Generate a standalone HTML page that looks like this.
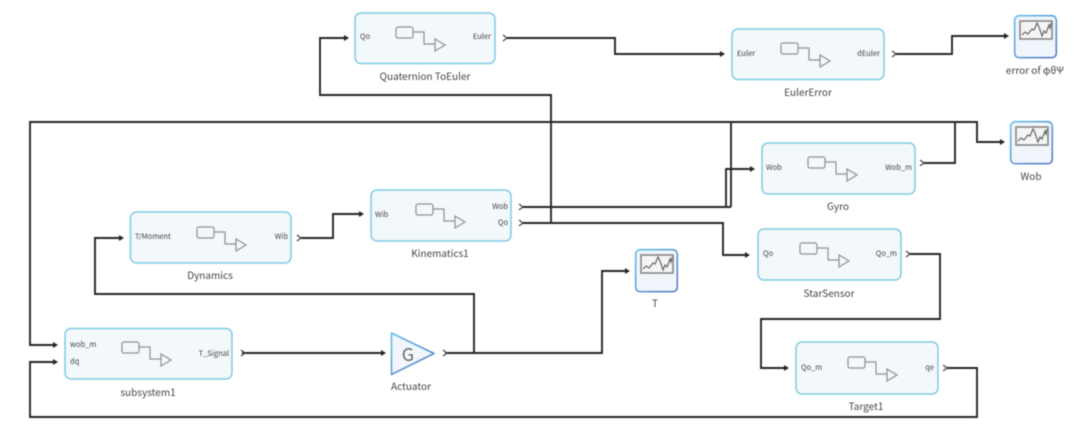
<!DOCTYPE html>
<html><head><meta charset="utf-8">
<style>
html,body{margin:0;padding:0;background:#fff;width:1080px;height:439px;overflow:hidden}
svg{display:block;filter:blur(0.5px)}
text{font-family:"Liberation Sans","Noto Sans CJK SC",sans-serif;fill:#555}
.t{font-family:"Noto Sans CJK SC","Liberation Sans",sans-serif;font-size:10px;text-anchor:middle;fill:#444}
.p{font-family:"Noto Sans CJK SC","Liberation Sans",sans-serif;font-size:7.5px;fill:#444}
.e{text-anchor:end}
.b{fill:#f3f8fb;stroke:#80cbe4;stroke-width:1.5}
.w{fill:none;stroke:#262626;stroke-width:1.9}
.a{fill:#262626}
.o{fill:none;stroke:#444;stroke-width:1.2}
</style></head><body>
<svg width="1080" height="439" viewBox="0 0 1080 439" xmlns="http://www.w3.org/2000/svg">
<defs>
<g id="ic" fill="none" stroke="#909090" stroke-width="1.2">
<rect x="0" y="0" width="17" height="11" rx="2"/>
<path d="M17 5H28V17H39"/>
<path d="M39 12L49 18L39 24Z" fill="#f3f8fb"/>
</g>
<linearGradient id="sg" x1="0" y1="0" x2="1" y2="1"><stop offset="0" stop-color="#66c0ea"/><stop offset="1" stop-color="#5b79c4"/></linearGradient>
<g id="sc">
<rect x="0.7" y="0.7" width="41.6" height="42" rx="4.5" fill="#f0f5fb" stroke="url(#sg)" stroke-width="1.6"/>
<rect x="6" y="6" width="32" height="18" fill="#f5f5f5" stroke="#808080" stroke-width="1.5"/>
<path d="M8 20L11 17L14 19L18 14L20 15L23 8L25 12L28 21L30 16L32 18L35 10L36 13L37 8" fill="none" stroke="#666" stroke-width="1.2"/>
</g>
</defs>

<!-- wires -->
<path class="w" d="M551 223V95H320V38H345"/>
<path class="w" d="M507 38H615V54H721"/>
<path class="w" d="M896 54H952V36H1005"/>
<path class="w" d="M731 207V122"/>
<path class="w" d="M54 345H30V122H977V142H1001"/>
<path class="w" d="M522 207H731"/>
<path class="w" d="M726 207V169H751"/>
<path class="w" d="M923 163H955V122"/>
<path class="w" d="M522 223H723V255H746"/>
<path class="w" d="M909 254H940V319H761V368H785"/>
<path class="w" d="M946 368H977V417H30V362H54"/>
<path class="w" d="M242 353H382"/>
<path class="w" d="M445 353H602V271H626"/>
<path class="w" d="M474 353V294H95V238H120"/>
<path class="w" d="M301 238H333V214H360"/>

<!-- arrowheads -->
<path class="a" d="M344 35L349 38L344 41Z"/>
<path class="a" d="M720 51L725 54L720 57Z"/>
<path class="a" d="M1004 33L1009 36L1004 39Z"/>
<path class="a" d="M1000 139L1005 142L1000 145Z"/>
<path class="a" d="M750 166L755 169L750 172Z"/>
<path class="a" d="M745 252L750 255L745 258Z"/>
<path class="a" d="M784 365L789 368L784 371Z"/>
<path class="a" d="M53 342L58 345L53 348Z"/>
<path class="a" d="M53 359L58 362L53 365Z"/>
<path class="a" d="M381 350L386 353L381 356Z"/>
<path class="a" d="M625 268L630 271L625 274Z"/>
<path class="a" d="M119 235L124 238L119 241Z"/>
<path class="a" d="M359 211L364 214L359 217Z"/>

<!-- output ticks -->
<path class="o" d="M503 35L507 38L503 41"/>
<path class="o" d="M892 51L896 54L892 57"/>
<path class="o" d="M519 204L523 207L519 210"/>
<path class="o" d="M519 220L523 223L519 226"/>
<path class="o" d="M920 160L924 163L920 166"/>
<path class="o" d="M906 251L910 254L906 257"/>
<path class="o" d="M943 365L947 368L943 371"/>
<path class="o" d="M241 350L245 353L241 356"/>
<path class="o" d="M297 235L301 238L297 241"/>
<path class="o" d="M443 350L447 353L443 356"/>

<!-- blocks -->
<rect class="b" x="355" y="13" width="140" height="50.5" rx="6"/>
<rect class="b" x="732" y="29" width="152" height="50.5" rx="6"/>
<rect class="b" x="762" y="143" width="153" height="51" rx="6"/>
<rect class="b" x="758" y="229" width="143" height="51" rx="6"/>
<rect class="b" x="796" y="342" width="142" height="52" rx="6"/>
<rect class="b" x="371" y="190" width="140" height="51" rx="6"/>
<rect class="b" x="130.500" y="212" width="160.500" height="51" rx="6"/>
<rect class="b" x="65" y="328.500" width="167" height="50.500" rx="6"/>

<use href="#ic" x="396" y="27"/>
<use href="#ic" x="781" y="43"/>
<use href="#ic" x="808" y="157"/>
<use href="#ic" x="800" y="243"/>
<use href="#ic" x="848" y="357"/>
<use href="#ic" x="416" y="204"/>
<use href="#ic" x="197" y="227"/>
<use href="#ic" x="122" y="342"/>

<!-- gain -->
<path d="M391.500 333L434 353.500L391.500 374.500Z" fill="#f0f6fb" stroke="url(#sg)" stroke-width="1.6" stroke-linejoin="round"/>
<text x="408" y="361" style="font-family:'Noto Sans CJK SC','Liberation Sans',sans-serif;font-size:18px;text-anchor:middle;fill:#6a6a6a">G</text>

<!-- scopes -->
<use href="#sc" x="1014" y="15"/>
<use href="#sc" x="1010" y="121"/>
<use href="#sc" x="635" y="249"/>

<!-- port labels -->
<text class="p" x="360" y="39">Qo</text>
<text class="p e" x="491" y="39">Euler</text>
<text class="p" x="737" y="56">Euler</text>
<text class="p e" x="880" y="56">dEuler</text>
<text class="p" x="766" y="170">Wob</text>
<text class="p e" x="912" y="170">Wob_m</text>
<text class="p" x="763" y="256">Qo</text>
<text class="p e" x="897" y="256">Qo_m</text>
<text class="p" x="801" y="370">Qo_m</text>
<text class="p e" x="934" y="370">qe</text>
<text class="p" x="375" y="217">Wib</text>
<text class="p e" x="508" y="209">Wob</text>
<text class="p e" x="508" y="225">Qo</text>
<text class="p" x="135" y="239">T/Moment</text>
<text class="p e" x="288" y="239">Wib</text>
<text class="p" x="70" y="347">wob_m</text>
<text class="p" x="70" y="364">dq</text>
<text class="p e" x="229" y="356">T_Signal</text>

<!-- titles -->
<text class="t" x="425" y="80">Quaternion ToEuler</text>
<text class="t" x="808" y="96">EulerError</text>
<text class="t" x="838" y="210">Gyro</text>
<text class="t" x="829" y="297">StarSensor</text>
<text class="t" x="866" y="410">Target1</text>
<text class="t" x="440" y="257">Kinematics1</text>
<text class="t" x="210" y="279">Dynamics</text>
<text class="t" x="148" y="396">subsystem1</text>
<text class="t" x="411" y="390">Actuator</text>
<text class="t" x="655" y="307">T</text>
<text class="t" x="1035" y="74">error of φθΨ</text>
<text class="t" x="1031" y="180">Wob</text>
</svg>
</body></html>
